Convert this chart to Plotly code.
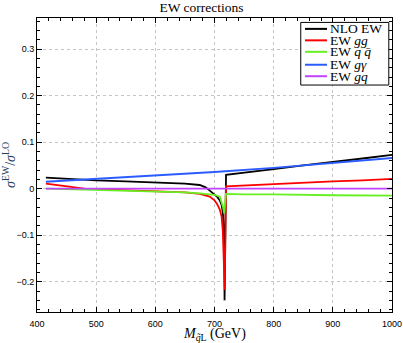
import plotly.graph_objects as go

# NLO EW (total)
m_nlo = [415, 450, 500, 550, 600, 650, 675, 685, 692, 700, 705, 709, 712, 714, 715.5, 716.5, 717, 719.5,
         750, 800, 850, 900, 950, 1000]
nlo_ew = [0.024, 0.021, 0.018, 0.016, 0.0135, 0.011, 0.008, 0.003, -0.004, -0.012, -0.018, -0.025, -0.035,
          -0.05, -0.08, -0.14, -0.24, 0.030, 0.034, 0.042, 0.050, 0.057, 0.065, 0.073]

# EW gg
m_gg = [415, 450, 480, 500, 550, 600, 650, 675, 692, 700, 704, 709, 712, 714, 715.5, 716.5, 717.3, 719.3,
        750, 800, 850, 900, 950, 1000]
ew_gg = [0.011, 0.005, 0.0, -0.001, -0.003, -0.006, -0.008, -0.011, -0.017, -0.025, -0.032, -0.045, -0.06,
         -0.09, -0.15, -0.217, -0.217, 0.005, 0.007, 0.010, 0.013, 0.016, 0.018, 0.021]

# EW q qbar
m_qq = [415, 450, 500, 550, 600, 650, 675, 692, 700, 709, 712, 714.5, 716.4, 718, 719.3,
        750, 800, 900, 1000]
ew_qqbar = [0.0, -0.001, -0.003, -0.005, -0.006, -0.008, -0.010, -0.011, -0.013, -0.017, -0.028, -0.04,
            -0.053, -0.03, -0.011, -0.012, -0.012, -0.014, -0.015]

# EW g gamma
m_ga = [415, 500, 600, 700, 800, 900, 1000]
ew_ggamma = [0.015, 0.021, 0.028, 0.036, 0.045, 0.055, 0.066]

# EW g q
m_gq = [415, 500, 600, 700, 800, 900, 1000]
ew_gq = [0.0, 0.0, 0.0, 0.0, 0.0, 0.0, 0.0]

names = ['NLO EW', 'EW <i>gg</i>', 'EW <i>q q̄</i>', 'EW <i>gγ</i>', 'EW <i>gq</i>']
colors = ['black', '#ff0000', '#66f022', '#2b5cff', '#c044ff']
series = [(m_nlo, nlo_ew), (m_gg, ew_gg), (m_qq, ew_qqbar), (m_ga, ew_ggamma), (m_gq, ew_gq)]

serif = "Liberation Serif"
sans = "Liberation Sans"

fig = go.Figure()
for (xs, ys), name, col in zip(series, names, colors):
    fig.add_trace(go.Scatter(x=xs, y=ys, mode='lines', name=name,
                             line=dict(color=col, width=1.8), showlegend=False))

# legend box drawn by hand (plotly's own legend rows are much taller)
fig.add_shape(type='rect', xref='x domain', yref='y domain', x0=0.743, x1=0.991, y0=0.772, y1=0.985,
              line=dict(color='black', width=1), fillcolor='white', layer='above')
row_y = [0.963, 0.924, 0.885, 0.841, 0.802]
for ry, name, col in zip(row_y, names, colors):
    fig.add_shape(type='line', xref='x domain', yref='y domain', x0=0.755, x1=0.817, y0=ry, y1=ry,
                  line=dict(color=col, width=2), layer='above')
    fig.add_annotation(xref='x domain', yref='y domain', x=0.823, y=ry, text=name, showarrow=False,
                       xanchor='left', yanchor='middle', borderpad=0,
                       font=dict(family=serif, size=13.5, color='black'))

# x axis title, placed a bit lower than plotly would put it
fig.add_annotation(xref='x domain', yref='y domain', x=0.5, y=-0.077, showarrow=False,
                   text='<i>M</i><sub><i>q̃</i>L</sub> (GeV)', xanchor='center', yanchor='middle',
                   borderpad=0, font=dict(family=serif, size=14, color='black'))

axis_common = dict(showline=True, linecolor='black', linewidth=1, mirror='allticks',
                   ticks='inside', ticklen=5, tickcolor='black', automargin=False,
                   showgrid=True, gridcolor='#c4c4c4', griddash='dot', gridwidth=1,
                   zeroline=False, tickfont=dict(family=sans, size=9, color='black'))

fig.update_xaxes(range=[400, 1000], tickvals=[400, 500, 600, 700, 800, 900, 1000],
                 minor=dict(dtick=20, ticks='inside', ticklen=3, tickcolor='black', showgrid=False),
                 ticklabelstandoff=3,
                 **axis_common)
fig.update_yaxes(range=[-0.265, 0.367], tickvals=[-0.2, -0.1, 0, 0.1, 0.2, 0.3],
                 ticktext=['−0.2', '−0.1', '0', '0.1', '0.2', '0.3'],
                 minor=dict(dtick=0.02, ticks='inside', ticklen=3, tickcolor='black', showgrid=False),
                 title=dict(text='<i>σ</i><sup>EW</sup>/<i>σ</i><sup>LO</sup>', font=dict(family=serif, size=14),
                            standoff=2),
                 **axis_common)

fig.update_layout(
    width=403, height=343,
    margin=dict(l=37, r=11, t=18, b=31),
    paper_bgcolor='white', plot_bgcolor='white',
    title=dict(text='EW corrections', x=0.5, xanchor='center', y=0.992, yanchor='top',
               font=dict(family=serif, size=13.5, color='black')),
    showlegend=False,
)

fig.write_html("out.html", config={'displayModeBar': False},
               post_script="document.body.style.margin='0px';")
